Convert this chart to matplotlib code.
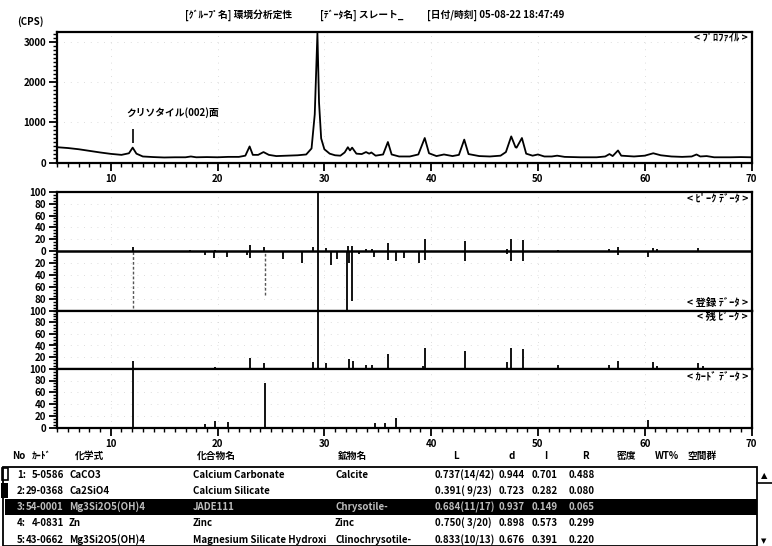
import matplotlib
matplotlib.use("Agg")
import matplotlib.pyplot as plt
from matplotlib.ticker import MultipleLocator, FixedLocator, FuncFormatter
from matplotlib.patches import Rectangle

# ============ STYLE ============
plt.rcParams.update({
    'font.family': ['Noto Sans CJK JP', 'DejaVu Sans'],
    'font.weight': 'bold',
    'font.size': 7,
    'axes.linewidth': 1.6,
    'xtick.direction': 'out',
    'ytick.direction': 'out',
    'xtick.labelsize': 7,
    'ytick.labelsize': 7,
})

# ============ DATA ============
title_parts = ["[ｸﾞﾙｰﾌﾟ名] 環境分析定性", "[ﾃﾞｰﾀ名] スレート_", "[日付/時刻] 05-08-22 18:47:49"]

profile_2theta = [5.0, 6.0, 7.0, 8.0, 9.0, 10.0, 11.0, 11.7, 12.05, 12.4, 13.0, 14.0, 15.0,
                  16.0, 17.0, 17.5, 18.0, 19.0, 20.0, 21.0, 22.0, 22.6, 23.0, 23.3, 23.8,
                  24.3, 24.8, 25.5, 26.5, 27.5, 28.3, 28.8, 29.1, 29.35, 29.5, 29.7, 30.0,
                  30.5, 31.0, 31.5, 31.9, 32.2, 32.4, 32.6, 33.0, 33.5, 33.9, 34.2, 34.4,
                  34.8, 35.5, 35.95, 36.3, 37.0, 38.0, 38.8, 39.4, 39.8, 40.5, 41.2, 42.0,
                  42.6, 43.1, 43.5, 44.5, 45.5, 46.5, 47.0, 47.5, 47.9, 48.0, 48.5, 48.9,
                  49.5, 50.0, 50.6, 51.3, 51.8, 52.5, 54.0, 55.5, 56.3, 56.7, 57.0, 57.5,
                  57.8, 59.0, 60.0, 60.8, 61.5, 62.5, 63.5, 64.4, 64.85, 65.2, 65.8, 66.5,
                  68.0, 69.0, 70.0]
profile_cps = [380, 360, 330, 290, 250, 215, 190, 230, 370, 220, 150, 135, 125,
               130, 130, 150, 130, 135, 130, 140, 140, 170, 400, 190, 190,
               260, 190, 160, 170, 180, 200, 350, 1200, 3220, 1500, 600, 330,
               220, 180, 170, 250, 380, 300, 370, 220, 210, 260, 220, 250,
               170, 200, 510, 200, 150, 150, 200, 610, 230, 160, 200, 160,
               190, 570, 210, 160, 150, 170, 260, 650, 380, 370, 610, 220,
               170, 200, 150, 150, 170, 140, 130, 130, 150, 210, 160, 300,
               170, 150, 170, 230, 180, 150, 140, 150, 200, 150, 160, 130,
               130, 135, 130]

anno_2theta = 12.05
anno_cps = [480, 830]
anno_label = "クリソタイル(002)面"

# peak data (up)
peak_2theta = [12.07, 17.45, 19.73, 23.05, 24.33, 28.9, 29.4, 30.13, 32.26, 32.63, 33.88,
               34.5, 36.0, 39.4, 43.18, 47.1, 47.5, 48.6, 51.85, 56.7, 57.5, 60.8, 61.15, 65.0]
peak_int = [7, 2, 2, 11, 7, 7, 100, 5, 9, 8, 4,
            4, 14, 20, 17, 4, 21, 18, 2, 3, 7, 6, 4, 6]

# registered data (down)
reg_2theta = [18.8, 19.7, 20.9, 22.75, 23.08, 26.08, 27.87, 29.4, 30.6, 31.2, 32.13, 32.3,
              32.63, 33.2, 34.66, 36.0, 36.7, 37.42, 38.83, 39.42, 43.18, 47.12, 47.5,
              48.6, 57.5, 60.35]
reg_int = [7, 12, 10, 7, 12, 13, 19, 100, 24, 13, 100, 19,
           84, 4, 9, 14, 16, 12, 19, 15, 17, 4, 17,
           17, 7, 10]
reg_sel_2theta = [12.07, 24.4]
reg_sel_int = [95, 74]

# residual peaks
resid_2theta = [12.07, 17.45, 19.73, 20.9, 23.05, 24.33, 28.92, 29.4, 30.13, 32.3, 32.65,
                33.88, 34.45, 36.0, 36.7, 39.2, 39.42, 43.18, 47.1, 47.5, 48.6, 51.85,
                56.7, 57.5, 60.8, 61.15, 65.0, 65.5]
resid_int = [13, 2, 3, 2, 19, 10, 11, 100, 9, 17, 14,
             7, 7, 26, 2, 4, 36, 31, 12, 36, 34, 7,
             7, 13, 11, 5, 10, 4]

# card data (selected card)
card_2theta = [12.12, 18.8, 19.8, 20.95, 24.43, 34.7, 35.65, 36.75, 60.33]
card_int = [100, 7, 12, 9, 75, 8, 8, 16, 13]

table_header = ["No", "ｶｰﾄﾞ", "化学式", "化合物名", "鉱物名", "L", "d", "I", "R", "密度", "WT%", "空間群"]
row_no = ["1:", "2:", "3:", "4:", "5:"]
row_card = ["5-0586", "29-0368", "54-0001", "4-0831", "43-0662"]
row_formula = ["CaCO3", "Ca2SiO4", "Mg3Si2O5(OH)4", "Zn", "Mg3Si2O5(OH)4"]
row_compound = ["Calcium Carbonate", "Calcium Silicate", "JADE111", "Zinc", "Magnesium Silicate Hydroxi"]
row_mineral = ["Calcite", "", "Chrysotile-", "Zinc", "Clinochrysotile-"]
row_L = ["0.737(14/42)", "0.391( 9/23)", "0.684(11/17)", "0.750( 3/20)", "0.833(10/13)"]
row_d = ["0.944", "0.723", "0.937", "0.898", "0.676"]
row_I = ["0.701", "0.282", "0.149", "0.573", "0.391"]
row_R = ["0.488", "0.080", "0.065", "0.299", "0.220"]
selected_row = 2

# ============ LAYOUT (pixels of a 772x546 canvas) ============
W, H = 772, 546
X_LEFT, X_RIGHT = 57.4, 751.5


def fx(px):
    return px / W


def fy(py):
    return 1 - py / H


def add_panel(fig, top, bottom):
    return fig.add_axes([fx(X_LEFT), fy(bottom), fx(X_RIGHT - X_LEFT), (bottom - top) / H])


def style_x(ax, labels):
    ax.set_xlim(5, 70)
    ax.xaxis.set_major_locator(MultipleLocator(10))
    ax.xaxis.set_minor_locator(MultipleLocator(1))
    ax.tick_params(axis='both', which='major', length=6, width=1.3, pad=2)
    ax.tick_params(axis='both', which='minor', length=3, width=1.0)
    if not labels:
        ax.tick_params(axis='x', which='both', bottom=False, labelbottom=False)
    ax.grid(True, which='major', color='#d2d2d2', lw=0.6, ls=(0, (1, 7)))


def panel_tag(fig, y, s):
    fig.text(fx(748), fy(y), s, ha='right', va='center', fontsize=7.5)


fig = plt.figure(figsize=(W / 100, H / 100), dpi=100)

# ---- profile ----
ax = add_panel(fig, 32, 162.5)
ax.plot(profile_2theta, profile_cps, color='k', lw=1.3)
ax.vlines(anno_2theta, anno_cps[0], anno_cps[1], color='k', lw=1.2)
ax.set_ylim(0, 3250)
ax.yaxis.set_major_locator(MultipleLocator(1000))
ax.yaxis.set_minor_locator(MultipleLocator(100))
style_x(ax, True)
ax.text(anno_2theta - 0.6, 1250, anno_label, fontsize=7, ha='left', va='center')
panel_tag(fig, 37, "< ﾌﾟﾛﾌｧｲﾙ >")

# ---- peak / registered data ----
axp = add_panel(fig, 191.7, 310.7)
axp.vlines(peak_2theta, 0, peak_int, color='k', lw=1.3)
axp.vlines(reg_2theta, [-v for v in reg_int], 0, color='k', lw=1.3)
axp.vlines(reg_sel_2theta, [-v for v in reg_sel_int], 0, color='#555555', lw=1.0, ls=(0, (2, 1.5)))
axp.axhline(0, color='k', lw=1.8)
axp.set_ylim(-100, 100)
axp.yaxis.set_major_locator(MultipleLocator(20))
axp.yaxis.set_minor_locator(MultipleLocator(5))
axp.yaxis.set_major_formatter(FuncFormatter(lambda v, p: f"{abs(int(round(v)))}"))
style_x(axp, False)
panel_tag(fig, 198, "< ﾋﾟｰｸ ﾃﾞｰﾀ >")
panel_tag(fig, 303, "< 登録 ﾃﾞｰﾀ >")

# ---- residual peaks ----
axr = add_panel(fig, 310.7, 368.7)
axr.vlines(resid_2theta, 0, resid_int, color='k', lw=1.3)
axr.set_ylim(0, 100)
axr.yaxis.set_major_locator(FixedLocator([20, 40, 60, 80]))
axr.yaxis.set_minor_locator(MultipleLocator(5))
style_x(axr, False)
panel_tag(fig, 316.5, "< 残 ﾋﾟｰｸ >")

# ---- card data ----
axc = add_panel(fig, 368.7, 427.7)
axc.vlines(card_2theta, 0, card_int, color='k', lw=1.3)
axc.set_ylim(0, 100)
axc.yaxis.set_major_locator(MultipleLocator(20))
axc.yaxis.set_minor_locator(MultipleLocator(5))
style_x(axc, True)
panel_tag(fig, 377, "< ｶｰﾄﾞ ﾃﾞｰﾀ >")

# ---- header texts ----
for x0, s in zip([185, 320, 427], title_parts):
    fig.text(fx(x0), fy(15), s, ha='left', va='center', fontsize=7)
fig.text(fx(17), fy(22), "(CPS)", ha='left', va='center', fontsize=7)

# ---- result table ----
head_x = [12, 32, 75, 197, 338, 456, 512, 546, 585, 617, 655, 687]
head_ha = ['left'] * 5 + ['center'] * 4 + ['left'] * 3
for x0, ha, s in zip(head_x, head_ha, table_header):
    fig.text(fx(x0), fy(456), s, ha=ha, va='center', fontsize=7)

fig.add_artist(Rectangle((fx(3), fy(546)), fx(754), (546 - 466.7) / H, transform=fig.transFigure,
                         fill=False, ec='k', lw=1.3))
fig.add_artist(Rectangle((fx(5), fy(514.5)), fx(752), 15.5 / H, transform=fig.transFigure,
                         fc='k', ec='none'))
fig.add_artist(Rectangle((fx(1), fy(498)), fx(7), 15 / H, transform=fig.transFigure,
                         fc='k', ec='none'))
fig.add_artist(Rectangle((fx(1.5), fy(480)), fx(6), 12 / H, transform=fig.transFigure,
                         fill=False, ec='k', lw=1.2))
fig.text(fx(764), fy(476), "▲", ha='center', va='center', fontsize=6, family='DejaVu Sans')
fig.text(fx(764), fy(541), "▼", ha='center', va='center', fontsize=5, family='DejaVu Sans')
fig.add_artist(plt.Line2D([fx(757), fx(772)], [fy(483), fy(483)], transform=fig.transFigure,
                          color='k', lw=1.2))

row_y = [475, 491, 507, 523, 540]
for i, y in enumerate(row_y):
    c = '#bdbdbd' if i == selected_row else 'k'
    cells = [(17, 'left', row_no[i]), (64, 'right', row_card[i]), (69, 'left', row_formula[i]),
             (193, 'left', row_compound[i]), (335, 'left', row_mineral[i]), (435, 'left', row_L[i]),
             (499, 'left', row_d[i]), (532, 'left', row_I[i]), (569, 'left', row_R[i])]
    for x0, ha, s in cells:
        fig.text(fx(x0), fy(y), s, ha=ha, va='center', fontsize=7, color=c)

fig.savefig("out.png", dpi=100, facecolor='white')
plt.close(fig)
